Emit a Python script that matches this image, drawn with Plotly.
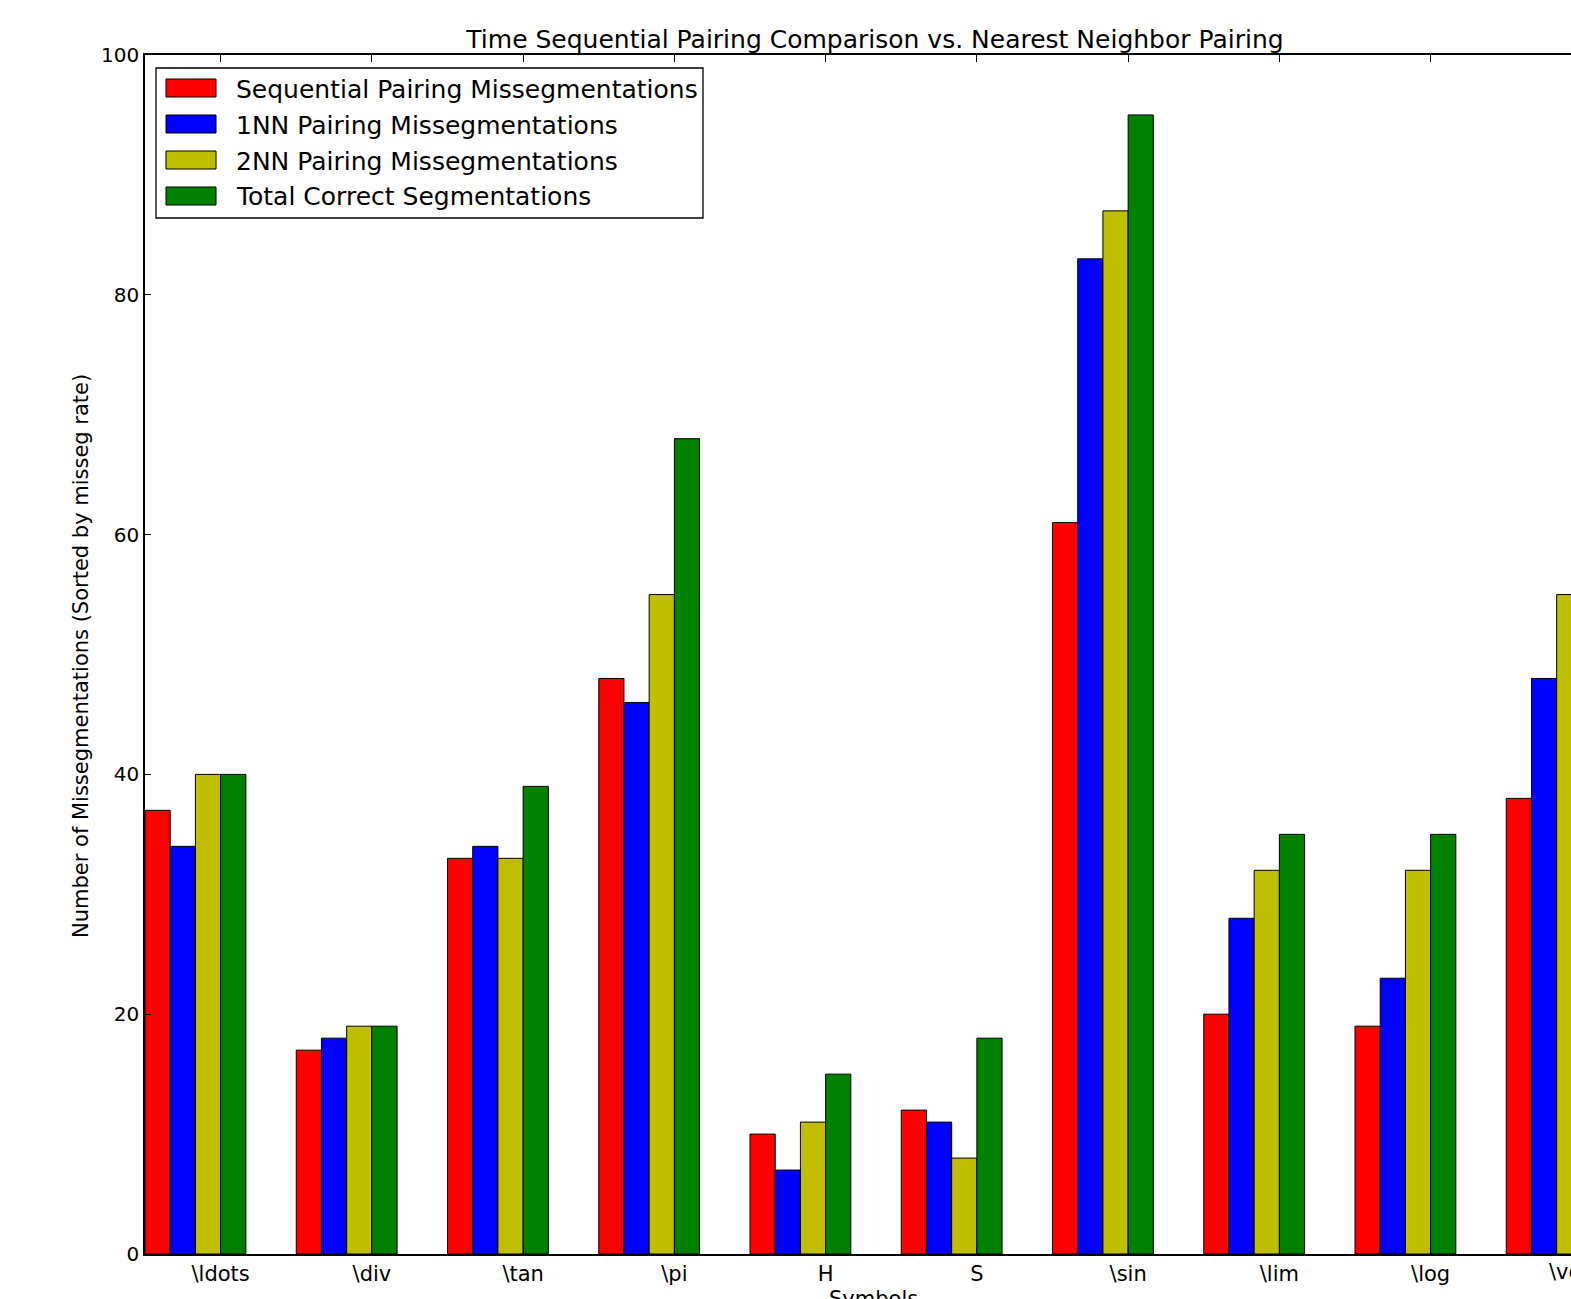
import plotly.graph_objects as go

categories = ["\\ldots", "\\div", "\\tan", "\\pi", "H", "S", "\\sin", "\\lim", "\\log", "\\vdots"]
sequential = [37, 17, 33, 48, 10, 12, 61, 20, 19, 38]
nn1 = [34, 18, 34, 46, 7, 11, 83, 28, 23, 48]
nn2 = [40, 19, 33, 55, 11, 8, 87, 32, 32, 55]
total_correct = [40, 19, 39, 68, 15, 18, 95, 35, 35, 60]

series_names = [
    "Sequential Pairing Missegmentations",
    "1NN Pairing Missegmentations",
    "2NN Pairing Missegmentations",
    "Total Correct Segmentations",
]
series_values = [sequential, nn1, nn2, total_correct]
series_colors = ["#ff0000", "#0000ff", "#bfbf00", "#008000"]
y_ticks = [0, 20, 40, 60, 80, 100]

FONT = "DejaVu Sans"
W, H = 1571, 1299
L, T, B = 145, 55, 45
plot_w = W - L
plot_h = H - T - B
px_per_unit = 151.25
bar_w = 1 / 6
x_max = plot_w / px_per_unit

fig = go.Figure()
idx = list(range(len(categories)))
for k, (name, vals, col) in enumerate(zip(series_names, series_values, series_colors)):
    fig.add_trace(go.Bar(
        x=idx, y=vals, name=name, width=bar_w, offset=k * bar_w,
        marker=dict(color=col, line=dict(color="black", width=1)),
        showlegend=False,
    ))

def px_x(p):
    return (p - L) / plot_w

def px_y(p):
    return (H - B - p) / plot_h

shapes = []
annotations = []
# legend box
shapes.append(dict(type="rect", xref="paper", yref="paper",
                   x0=px_x(156), x1=px_x(703), y0=px_y(218), y1=px_y(68),
                   line=dict(color="black", width=1.3), fillcolor="white", layer="above"))
for k, (name, col) in enumerate(zip(series_names, series_colors)):
    cy = 88 + 36 * k
    shapes.append(dict(type="rect", xref="paper", yref="paper",
                       x0=px_x(166), x1=px_x(216), y0=px_y(cy + 9), y1=px_y(cy - 9),
                       line=dict(color="black", width=1), fillcolor=col, layer="above"))
    annotations.append(dict(xref="paper", yref="paper", x=px_x(234), y=px_y(cy + 1),
                            xanchor="left", yanchor="middle", text=name, showarrow=False,
                            font=dict(family=FONT, size=25, color="black")))

# y axis title
annotations.append(dict(xref="paper", yref="paper", x=px_x(81), y=px_y(656),
                        text="Number of Missegmentations (Sorted by misseg rate)",
                        textangle=-90, showarrow=False, xanchor="center", yanchor="middle",
                        font=dict(family=FONT, size=21, color="black")))
# x axis title (partially cut off by the bottom edge, as in the source)
annotations.append(dict(xref="paper", yref="paper", x=px_x(873), y=px_y(1285),
                        text="Symbols", showarrow=False, xanchor="center", yanchor="top",
                        font=dict(family=FONT, size=21, color="black")))
# last tick label partially visible at right edge
annotations.append(dict(xref="paper", yref="paper", x=px_x(L + 9.5 * px_per_unit), y=px_y(1258),
                        text=categories[-1], showarrow=False, xanchor="center", yanchor="top",
                        font=dict(family=FONT, size=21, color="black")))

fig.update_layout(
    width=W, height=H,
    margin=dict(l=L, r=0, t=T, b=B),
    plot_bgcolor="white", paper_bgcolor="white",
    barmode="overlay",
    title=dict(text="Time Sequential Pairing Comparison vs. Nearest Neighbor Pairing",
               x=875 / W, xanchor="center",
               y=1 - 39 / H, yanchor="middle",
               font=dict(family=FONT, size=25, color="black")),
    shapes=shapes, annotations=annotations,
    font=dict(family=FONT, color="black"),
)
fig.update_xaxes(range=[0, x_max], tickvals=[i + 0.5 for i in idx], ticktext=categories,
                 showline=True, linecolor="black", linewidth=1.5, mirror="allticks",
                 ticks="inside", ticklen=7, tickcolor="black", tickwidth=1,
                 showgrid=False, zeroline=False, tickfont=dict(family=FONT, size=21, color="black"))
fig.update_yaxes(range=[0, 100], tickvals=y_ticks,
                 showline=True, linecolor="black", linewidth=1.5, mirror=False,
                 ticks="inside", ticklen=6, tickcolor="black", tickwidth=1,
                 showgrid=False, zeroline=False, tickfont=dict(family=FONT, size=20, color="black"))

fig.write_html("out.html")
